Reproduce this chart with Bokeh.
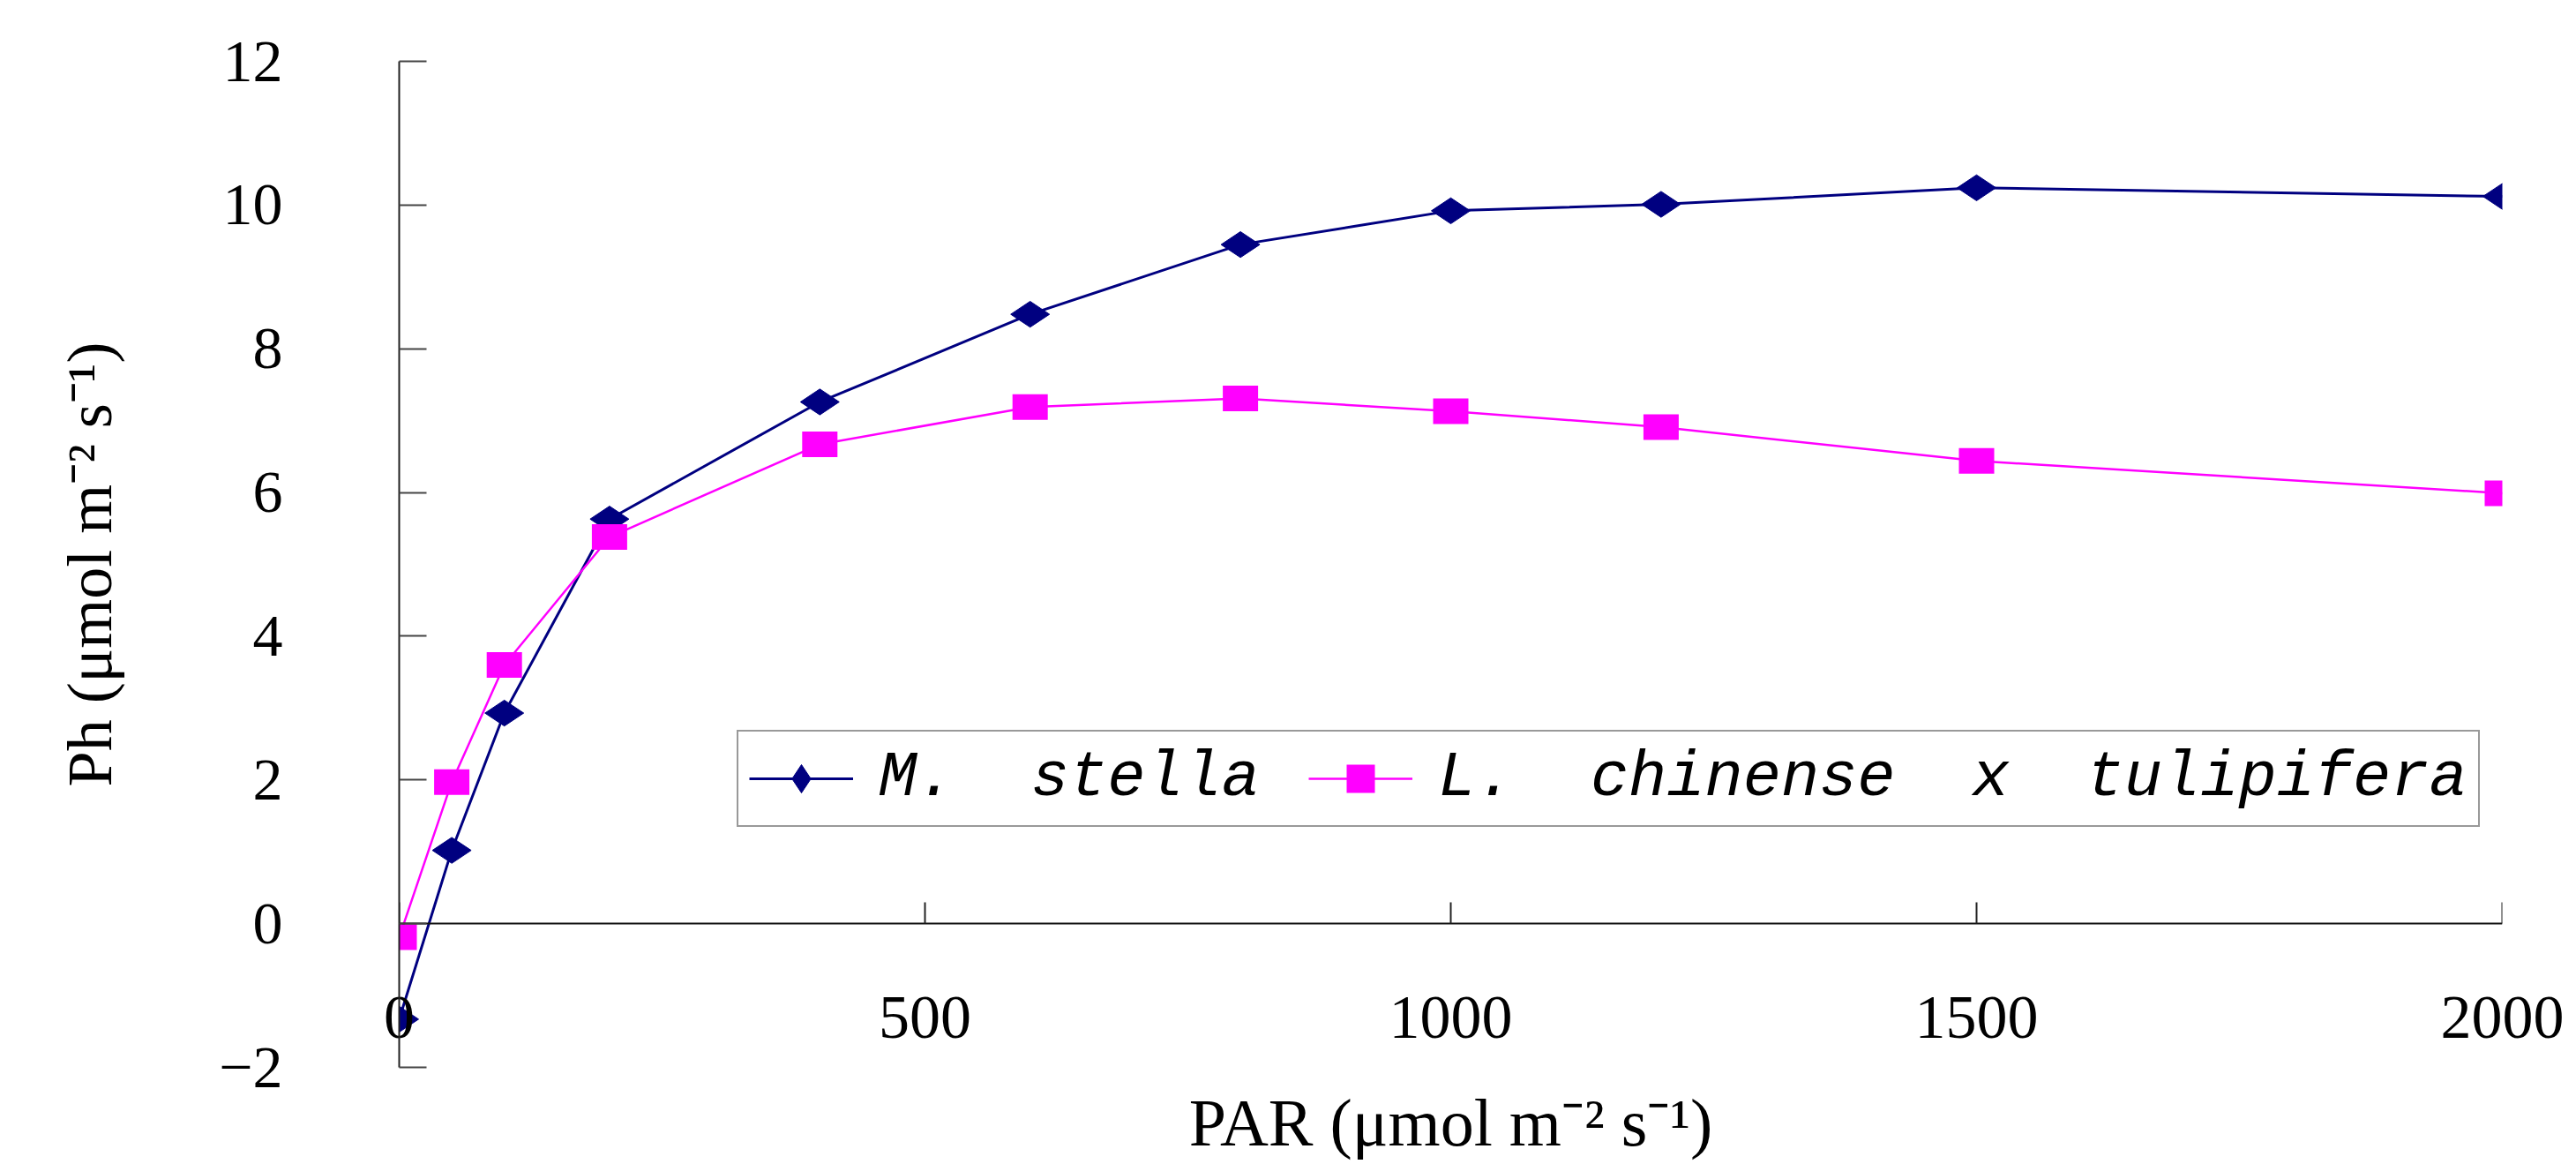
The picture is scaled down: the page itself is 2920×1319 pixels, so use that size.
import math
from bokeh.plotting import figure
from bokeh.models import Range1d, FixedTicker, Legend, LegendItem, ColumnDataSource, LinearAxis
from bokeh.embed import file_html
from bokeh.resources import INLINE

# ---- data ----
par = [0, 50, 100, 200, 400, 600, 800, 1000, 1200, 1500, 2000]
ph_stella = [-1.33, 1.02, 2.93, 5.63, 7.26, 8.48, 9.45, 9.92, 10.01, 10.24, 10.12]
ph_chinense = [-0.19, 1.97, 3.60, 5.38, 6.67, 7.19, 7.31, 7.13, 6.91, 6.44, 5.99]
series_names = ["M.  stella", "L.  chinense  x  tulipifera"]
x_ticks = [0, 500, 1000, 1500, 2000]
y_ticks = [-2, 0, 2, 4, 6, 8, 10, 12]
x_title = "PAR (μmol m⁻² s⁻¹)"
y_title = "Ph (μmol m⁻² s⁻¹)"

NAVY = "#000080"
MAGENTA = "#FF00FF"
SERIF = "Liberation Serif"

W, H = 2920, 1319
p = figure(width=W, height=H, output_backend="svg", toolbar_location=None,
           x_range=Range1d(0, 2000), y_range=Range1d(-2, 12),
           min_border_left=452, min_border_right=84, min_border_top=69,
           min_border_bottom=110)
p.xgrid.visible = False
p.ygrid.visible = False
p.outline_line_color = None
p.background_fill_color = "white"
p.border_fill_color = "white"

# bottom axis: only tick labels and title (labels lifted into the frame)
xa = p.xaxis[0]
xa.ticker = FixedTicker(ticks=x_ticks)
xa.axis_line_color = None
xa.major_tick_line_color = None
xa.minor_tick_line_color = None
xa.major_tick_in = 0
xa.major_tick_out = 0
xa.major_label_standoff = -80
xa.major_label_text_font = SERIF
xa.major_label_text_font_size = "70px"
xa.major_label_text_color = "black"
xa.axis_label = x_title
xa.axis_label_standoff = 51
xa.axis_label_text_font = SERIF
xa.axis_label_text_font_size = "76px"
xa.axis_label_text_font_style = "normal"
xa.axis_label_text_color = "black"

# x axis line crossing at y = 0, with inside ticks
x0 = LinearAxis(fixed_location=0, ticker=FixedTicker(ticks=x_ticks))
x0.minor_tick_line_color = None
x0.major_tick_in = 24
x0.major_tick_out = 0
x0.major_tick_line_color = "#222222"
x0.major_tick_line_width = 2
x0.axis_line_color = "#111111"
x0.axis_line_width = 2
x0.major_label_text_color = None
x0.major_label_text_alpha = 0
p.add_layout(x0, "below")

ya = p.yaxis[0]
ya.ticker = FixedTicker(ticks=y_ticks)
ya.major_label_overrides = {-2: "−2"}
ya.minor_tick_line_color = None
ya.major_tick_in = 31
ya.major_tick_out = 0
ya.major_tick_line_color = "#444444"
ya.major_tick_line_width = 2
ya.axis_line_color = "#222222"
ya.axis_line_width = 2
ya.major_label_standoff = 132
ya.major_label_text_font = SERIF
ya.major_label_text_font_size = "68px"
ya.major_label_text_color = "black"
ya.axis_label = y_title
ya.axis_label_standoff = 103
ya.axis_label_text_font = SERIF
ya.axis_label_text_font_size = "72px"
ya.axis_label_text_font_style = "normal"
ya.axis_label_text_color = "black"

src = ColumnDataSource(dict(x=par, y1=ph_stella, y2=ph_chinense))

l1 = p.line("x", "y1", source=src, line_color=NAVY, line_width=3)
s1 = p.scatter("x", "y1", source=src, marker="diamond", size=44, angle=math.pi / 2,
               fill_color=NAVY, line_color=NAVY)
l2 = p.line("x", "y2", source=src, line_color=MAGENTA, line_width=2.5)
p.rect("x", "y2", source=src, width=40, height=29, width_units="screen",
       height_units="screen", fill_color=MAGENTA, line_color=None)
s2 = p.scatter("x", "y2", source=src, marker="square", size=30,
               fill_color=MAGENTA, line_color=None, visible=False)

legend = Legend(items=[LegendItem(label=series_names[0], renderers=[l1, s1]),
                       LegendItem(label=series_names[1], renderers=[l2, s2])],
                orientation="horizontal", location=(383, 272), margin=0,
                padding=12, spacing=55, glyph_width=118, glyph_height=80,
                label_standoff=29,
                label_text_font="Liberation Mono", label_text_font_style="italic",
                label_text_font_size="72px", label_text_color="black",
                border_line_color="#333333", border_line_width=2,
                background_fill_color="white", background_fill_alpha=1.0)
p.add_layout(legend)

open("out.html", "w").write(file_html(p, INLINE))
